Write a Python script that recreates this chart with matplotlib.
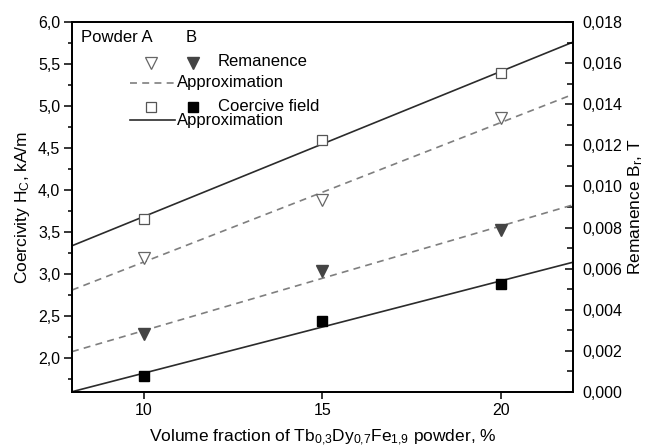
import numpy as np
import matplotlib
matplotlib.use('Agg')
import matplotlib.pyplot as plt
from matplotlib.ticker import MultipleLocator, FuncFormatter

plt.rcParams['font.family'] = ['Liberation Sans', 'DejaVu Sans']
plt.rcParams['mathtext.fontset'] = 'custom'
plt.rcParams['mathtext.rm'] = 'Liberation Sans'
plt.rcParams['mathtext.it'] = 'Liberation Sans:italic'
plt.rcParams['lines.scale_dashes'] = False

# volume fraction, %
x = [10, 15, 20]
# coercive field, kA/m (left axis)
coerc_A = [3.66, 4.60, 5.39]
coerc_B = [1.79, 2.44, 2.89]
# remanence, T (right axis)
reman_A = [0.00652, 0.00932, 0.01332]
reman_B = [0.0028, 0.0059, 0.0079]

x_line = [8, 22]

fig = plt.figure(figsize=(6.46, 4.48), dpi=100)
ax = fig.add_axes([72/646, 1-392/448, (573-72)/646, (392-22)/448])
ax2 = ax.twinx()

dark = '#2b2b2b'
grey = '#7f7f7f'
dash = (0, (5, 3.8))

# linear approximations
for yv, a, c, ls in [(coerc_A, ax, dark, '-'), (coerc_B, ax, dark, '-'),
                     (reman_A, ax2, grey, dash), (reman_B, ax2, grey, dash)]:
    k, b = np.polyfit(x, yv, 1)
    a.plot(x_line, [k*xx + b for xx in x_line], color=c, lw=1.2, ls=ls)

ax.plot(x, coerc_A, ls='none', marker='s', ms=7, mfc='white', mec='#555555', mew=0.9)
ax.plot(x, coerc_B, ls='none', marker='s', ms=7, mfc='black', mec='black')
ax2.plot(x, reman_A, ls='none', marker='v', ms=8, mfc='white', mec='#666666', mew=0.9)
ax2.plot(x, reman_B, ls='none', marker='v', ms=8, mfc='#444444', mec='#444444')

ax.set_xlim(8, 22)
ax.set_ylim(1.6, 6.0)
ax2.set_ylim(0, 0.018)

ax.set_xticks([10, 15, 20])
ax.yaxis.set_major_locator(MultipleLocator(0.5))
ax.yaxis.set_minor_locator(MultipleLocator(0.25))
ax2.yaxis.set_major_locator(MultipleLocator(0.002))
ax2.yaxis.set_minor_locator(MultipleLocator(0.001))
ax.yaxis.set_major_formatter(FuncFormatter(lambda v, p: ('%.1f' % v).replace('.', ',')))
ax2.yaxis.set_major_formatter(FuncFormatter(lambda v, p: ('%.3f' % v).replace('.', ',')))

ax.tick_params(axis='x', which='both', direction='out', top=False, length=5, width=1.1, labelsize=11.5, pad=3)
ax.tick_params(axis='y', which='major', direction='out', right=False, length=5.5, width=1.1, labelsize=11.5, pad=3)
ax.tick_params(axis='y', which='minor', direction='out', right=False, length=3, width=1.1)
ax2.tick_params(axis='y', which='major', direction='in', length=5.5, width=1.1, labelsize=11.5, pad=7)
ax2.tick_params(axis='y', which='minor', direction='in', length=4, width=1.1)

for a in (ax, ax2):
    for s in a.spines.values():
        s.set_linewidth(1.3)

ax.set_xlabel(r'Volume fraction of Tb$_\mathregular{0{,}3}$Dy$_\mathregular{0{,}7}$Fe$_\mathregular{1{,}9}$ powder, %',
              fontsize=12.5)
ax.xaxis.set_label_coords(0.5, -0.097)
ax.set_ylabel(r'Coercivity H$_\mathregular{C}$, kA/m', fontsize=12.5)
ax.yaxis.set_label_coords(-0.08, 0.5)
ax2.set_ylabel(r'Remanence B$_\mathregular{r}$, T', fontsize=12.5)
ax2.yaxis.set_label_coords(1.106, 0.5)

# hand-made legend
tr = ax.transAxes
ax.text(0.017, 0.957, 'Powder A', transform=tr, fontsize=12, va='center', ha='left')
ax.text(0.2275, 0.957, 'B', transform=tr, fontsize=12, va='center', ha='left')
ax.plot([0.157], [0.890], transform=tr, marker='v', ms=8, mfc='white', mec='#666666', mew=0.9, ls='none')
ax.plot([0.241], [0.890], transform=tr, marker='v', ms=8, mfc='#444444', mec='#444444', ls='none')
ax.text(0.291, 0.893, 'Remanence', transform=tr, fontsize=12, va='center', ha='left')
ax.plot([0.1158, 0.2056], [0.836, 0.836], transform=tr, color=grey, lw=1.2, ls=dash)
ax.text(0.209, 0.836, 'Approximation', transform=tr, fontsize=12, va='center', ha='left')
ax.plot([0.157], [0.771], transform=tr, marker='s', ms=7, mfc='white', mec='#555555', mew=0.9, ls='none')
ax.plot([0.241], [0.771], transform=tr, marker='s', ms=7, mfc='black', mec='black', ls='none')
ax.text(0.291, 0.771, 'Coercive field', transform=tr, fontsize=12, va='center', ha='left')
ax.plot([0.1158, 0.2056], [0.735, 0.735], transform=tr, color=dark, lw=1.2)
ax.text(0.209, 0.735, 'Approximation', transform=tr, fontsize=12, va='center', ha='left')

fig.savefig('out.png', dpi=100)
